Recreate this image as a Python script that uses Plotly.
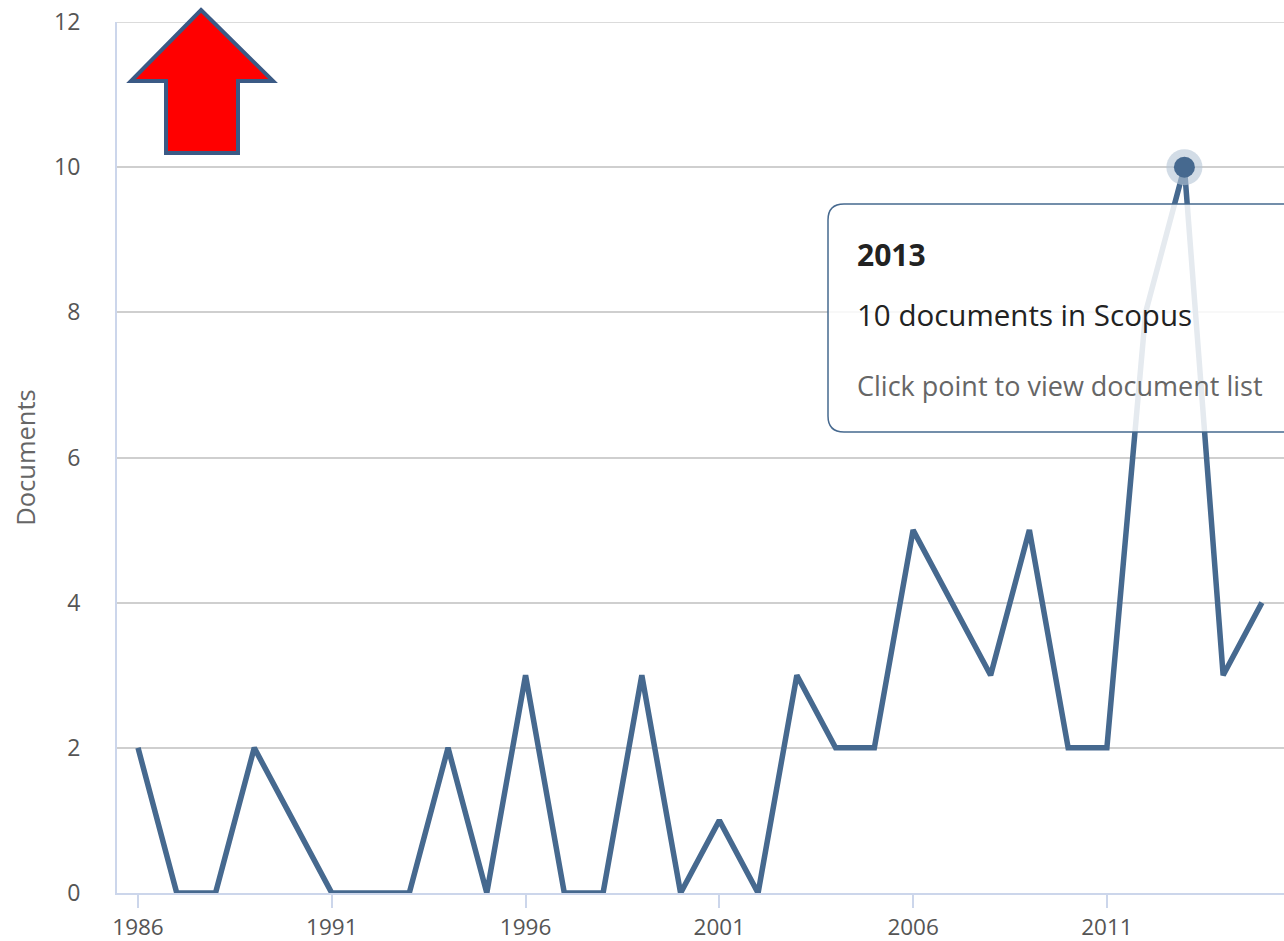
import plotly.graph_objects as go

# documents per year (Scopus)
years = list(range(1986, 2016))
docs = [2, 0, 0, 2, 1, 0, 0, 0, 2, 0,
        3, 0, 0, 3, 0, 1, 0, 3, 2, 2,
        5, 4, 3, 5, 2, 2, 8, 10, 3, 4]

hover_year = 2013
hover_docs = 10

y_ticks = [0, 2, 4, 6, 8, 10, 12]
x_ticks = [1986, 1991, 1996, 2001, 2006, 2011]

W, H = 1284, 941
L, R, T, B = 117, 0, 22, 48

line_col = '#46698f'
grid_col = '#cfcfcf'
font = 'Open Sans'


# screen pixel -> paper coords of the plot area
def px(x):
    return (x - L) / (W - L - R)


def py(y):
    return (H - B - y) / (H - T - B)


fig = go.Figure()

fig.add_trace(go.Scatter(x=years, y=docs, mode='lines',
                         line=dict(color=line_col, width=5.5),
                         hoverinfo='skip', showlegend=False))

# hovered point with halo
fig.add_trace(go.Scatter(x=[hover_year], y=[hover_docs], mode='markers',
                         marker=dict(size=36, color='rgba(180,196,214,0.6)'),
                         hoverinfo='skip', showlegend=False))
fig.add_trace(go.Scatter(x=[hover_year], y=[hover_docs], mode='markers',
                         marker=dict(size=21, color=line_col),
                         hoverinfo='skip', showlegend=False))

# top gridline (plotly drops gridlines sitting on the plot edge)
fig.add_shape(type='line', xref='paper', yref='y', x0=0, x1=1, y0=y_ticks[-1], y1=y_ticks[-1],
              line=dict(color=grid_col, width=1.5), layer='below')

# tooltip box (rounded, clipped at right edge)
x0, x1, y0, y1, r = 828, 1300, 204, 432, 16
path = (f'M {px(x0 + r)} {py(y0)} L {px(x1)} {py(y0)} L {px(x1)} {py(y1)} '
        f'L {px(x0 + r)} {py(y1)} Q {px(x0)} {py(y1)} {px(x0)} {py(y1 - r)} '
        f'L {px(x0)} {py(y0 + r)} Q {px(x0)} {py(y0)} {px(x0 + r)} {py(y0)} Z')
fig.add_shape(type='path', path=path, xref='paper', yref='paper',
              fillcolor='rgba(255,255,255,0.86)',
              line=dict(color=line_col, width=1.5), layer='above')

fig.add_annotation(x=px(855), y=py(254), xref='paper', yref='paper',
                   text='<b>2013</b>', showarrow=False, xanchor='left', yanchor='middle',
                   font=dict(family=font, size=30, color='#222222'))
fig.add_annotation(x=px(855), y=py(314), xref='paper', yref='paper',
                   text='10 documents in Scopus', showarrow=False, xanchor='left', yanchor='middle',
                   font=dict(family=font, size=29.5, color='#222222'))
fig.add_annotation(x=px(855), y=py(385), xref='paper', yref='paper',
                   text='Click point to view document list', showarrow=False,
                   xanchor='left', yanchor='middle',
                   font=dict(family=font, size=27, color='#666666'))

# red arrow
pts = [(201, 10), (273, 81), (238, 81), (238, 153), (166, 153), (166, 81), (131, 81)]
arrow = 'M ' + ' L '.join(f'{px(a)} {py(b)}' for a, b in pts) + ' Z'
fig.add_shape(type='path', path=arrow, xref='paper', yref='paper',
              fillcolor='#ff0000', line=dict(color='#3b5a85', width=4), layer='above')

fig.update_xaxes(range=[1985.458, 2015.57], tickvals=x_ticks, automargin=False,
                 ticklabeloverflow='allow',
                 showgrid=False, zeroline=False,
                 showline=True, linecolor='#ccd6eb', linewidth=2,
                 ticks='outside', ticklen=13, tickwidth=2, tickcolor='#ccd6eb',
                 tickfont=dict(family=font, size=22.5, color='#555555'))
fig.update_yaxes(range=[0, 12], tickvals=y_ticks, automargin=False,
                 ticklabeloverflow='allow',
                 showgrid=True, gridcolor=grid_col, gridwidth=1.5, zeroline=False,
                 showline=True, linecolor='#ccd6eb', linewidth=2,
                 ticklabelstandoff=30,
                 tickfont=dict(family=font, size=23, color='#555555'),
                 title=dict(text='Documents', standoff=11,
                            font=dict(family=font, size=25.5, color='#666666')))

fig.update_layout(width=W, height=H, margin=dict(l=L, r=R, t=T, b=B),
                  plot_bgcolor='white', paper_bgcolor='white', showlegend=False)

# drop the default page margin so the figure sits at the window origin
fig.write_html('out.html', config={'displayModeBar': False},
               post_script="document.body.style.margin='0';document.body.style.overflow='hidden';")
